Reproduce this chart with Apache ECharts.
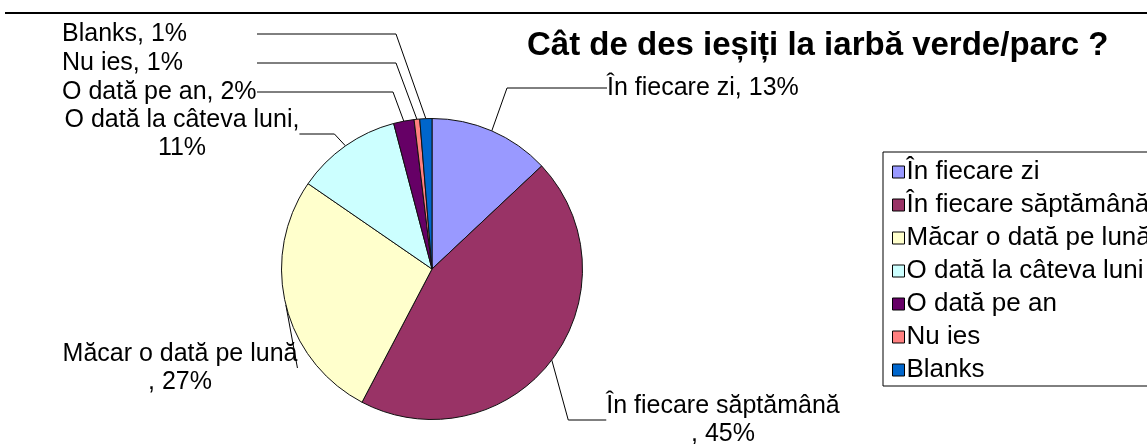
<!DOCTYPE html>
<html><head><meta charset="utf-8">
<script src="https://cdn.jsdelivr.net/npm/echarts@6/dist/echarts.min.js"></script>
<style>html,body{margin:0;padding:0;background:#fff}#c{width:1147px;height:444px}</style>
</head><body><div id="c"></div>
<script>
const titleText = 'Cât de des ieșiți la iarbă verde/parc ?';
const categories = ['În fiecare zi','În fiecare săptămână','Măcar o dată pe lună','O dată la câteva luni','O dată pe an','Nu ies','Blanks'];
const values = [13.0, 44.7, 26.9, 11.3, 2.2, 0.6, 1.3];
const colors = ['#9999FF','#993366','#FFFFCC','#CCFFFF','#660066','#FF8080','#0066CC'];
const labelTemplates = ['{b}, {d}%','{b}\n, {d}%','{b}\n, {d}%','{b},\n{d}%','{b}, {d}%','{b}, {d}%','{b}, {d}%'];

// label placement (layout only)
const labelPlace = [
  {x:607, y:88,  align:'left',   len2:100},
  {x:723, y:420, align:'center', len2:38},
  {x:180, y:368, align:'center', len2:0},
  {x:182, y:134, align:'center', len2:35},
  {x:62,  y:92,  align:'left',   len2:136, w:195},
  {x:62,  y:63,  align:'left',   len2:139, w:195},
  {x:62,  y:34,  align:'left',   len2:139, w:195}
];
const FONT = '"Liberation Sans", Arial, sans-serif';

const chart = echarts.init(document.getElementById('c'), null, {renderer:'canvas'});
const data = categories.map((name, i) => {
  const p = labelPlace[i];
  const lab = {formatter: labelTemplates[i]};
  if (p.w) { lab.width = p.w; lab.backgroundColor = 'rgba(0,0,0,0)'; }
  return {
    name, value: values[i],
    itemStyle: {color: colors[i]},
    label: lab,
    labelLine: {length2: p.len2}
  };
});
chart.setOption({
  animation: false,
  backgroundColor: '#fff',
  title: {
    text: titleText, left: 527, top: 29, padding: 0,
    textStyle: {fontSize: 33, fontWeight: 'bold', color: '#000', fontFamily: FONT}
  },
  legend: {
    orient: 'vertical', left: 883, top: 152, padding: [7, 300, 3, 9],
    itemWidth: 12, itemHeight: 12, itemGap: 7, icon: 'rect',
    borderColor: '#000', borderWidth: 1,
    itemStyle: {borderColor: '#000', borderWidth: 1},
    textStyle: {fontSize: 26, lineHeight: 26, color: '#000', fontFamily: FONT, padding: [0,0,0,-3]},
    data: categories
  },
  graphic: [{
    type: 'line', shape: {x1: 5, y1: 13, x2: 1147, y2: 13},
    style: {stroke: '#000', lineWidth: 2}, silent: true
  }],
  series: [{
    type: 'pie',
    center: [432, 269], radius: 150.5,
    startAngle: 90, clockwise: true,
    avoidLabelOverlap: false,
    percentPrecision: 0,
    itemStyle: {borderColor: '#111', borderWidth: 1},
    label: {
      show: true, position: 'outer', color: '#000', fontSize: 25, lineHeight: 28,
      fontFamily: FONT, overflow: 'none'
    },
    labelLine: {show: true, length: 15, length2: 15, minTurnAngle: 0, lineStyle: {color: '#000', width: 1}},
    emphasis: {disabled: true},
    labelLayout: function (params) {
      const p = labelPlace[params.dataIndex];
      return {x: p.x, y: p.y, align: p.align, verticalAlign: 'middle'};
    },
    data: data
  }]
});
</script></body></html>
